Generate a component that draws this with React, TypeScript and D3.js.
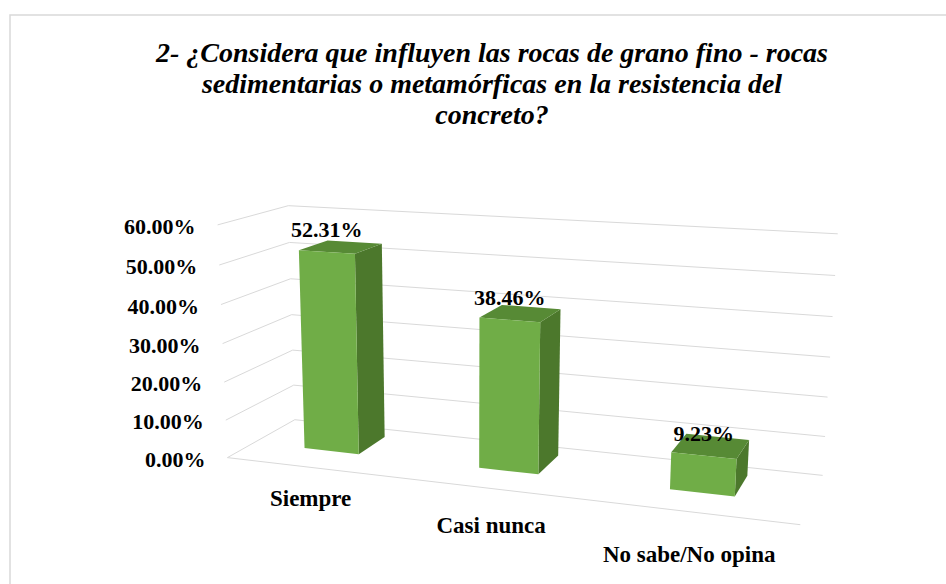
import React from "react";
import * as d3 from "d3";

// ---------- data ----------
const categories = ["Siempre", "Casi nunca", "No sabe/No opina"];
const values = [52.31, 38.46, 9.23];
const valueLabels = ["52.31%", "38.46%", "9.23%"];
const yTicks = [0, 10, 20, 30, 40, 50, 60];
const yTickLabels = ["0.00%", "10.00%", "20.00%", "30.00%", "40.00%", "50.00%", "60.00%"];
const titleLines = [
  "2- ¿Considera que influyen las rocas de grano fino - rocas",
  "sedimentarias o metamórficas en la resistencia del",
  "concreto?",
];

// ---------- layout: 3D box calibration (u, v, w) -> screen (x, y) ----------
// u: category axis 0..1, v: value fraction 0..1, w: depth 0 (front) .. 1 (back)
const calib: number[][] = [
  [0, 1, 0, 215, 225], [0, 5 / 6, 0, 218, 265], [0, 4 / 6, 0, 220, 305], [0, 3 / 6, 0, 223, 343],
  [0, 2 / 6, 0, 225, 382], [0, 1 / 6, 0, 227, 420], [0, 0, 0, 230, 455],
  [0, 1, 1, 292, 205], [0, 0, 1, 291, 423],
  [1, 1, 1, 837, 235], [1, 5 / 6, 1, 835, 275], [1, 4 / 6, 1, 833, 317], [1, 3 / 6, 1, 830, 357],
  [1, 2 / 6, 1, 828, 397], [1, 1 / 6, 1, 825, 435], [1, 0, 1, 823, 473],
  [1, 0, 0, 800, 528],
];
const CX = 500, CY = 380, S = 300;

function solveDLT(pts: number[][]) {
  const n = 11;
  const A = Array.from({ length: n }, () => new Array(n + 1).fill(0));
  const add = (row: number[], b: number) => {
    for (let i = 0; i < n; i++) {
      for (let j = 0; j < n; j++) A[i][j] += row[i] * row[j];
      A[i][n] += row[i] * b;
    }
  };
  for (const [X, Y, Z, x0, y0] of pts) {
    const x = (x0 - CX) / S, y = (y0 - CY) / S;
    add([X, Y, Z, 1, 0, 0, 0, 0, -x * X, -x * Y, -x * Z], x);
    add([0, 0, 0, 0, X, Y, Z, 1, -y * X, -y * Y, -y * Z], y);
  }
  for (let c = 0; c < n; c++) {
    let p = c;
    for (let r = c + 1; r < n; r++) if (Math.abs(A[r][c]) > Math.abs(A[p][c])) p = r;
    [A[c], A[p]] = [A[p], A[c]];
    for (let r = 0; r < n; r++) {
      if (r === c) continue;
      const f = A[r][c] / A[c][c];
      for (let k = c; k <= n; k++) A[r][k] -= f * A[c][k];
    }
  }
  return A.map((row, i) => row[n] / row[i]);
}
const P = solveDLT(calib);
function proj(u: number, v: number, w: number): [number, number] {
  const d = P[8] * u + P[9] * v + P[10] * w + 1;
  return [
    ((P[0] * u + P[1] * v + P[2] * w + P[3]) / d) * S + CX,
    ((P[4] * u + P[5] * v + P[6] * w + P[7]) / d) * S + CY,
  ];
}

const vScale = d3.scaleLinear().domain([0, 60]).range([0, 1]);
const uBand = d3
  .scaleBand<string>()
  .domain(categories)
  .range([0, 1])
  .paddingInner(0.68)
  .paddingOuter(0.33)
  .align(0.46);
const W0 = 0.38, W1 = 0.82;

const poly = (pts: [number, number][]) => "M" + pts.map((p) => p[0].toFixed(2) + "," + p[1].toFixed(2)).join("L") + "Z";
const line = (pts: [number, number][]) => "M" + pts.map((p) => p[0].toFixed(2) + "," + p[1].toFixed(2)).join("L");

const FRONT = "#70AD47";
const SIDE = "#4C782C";
const TOP = "#578A35";
const GRID = "#D9D9D9";
const FONT = "'Liberation Serif', 'Times New Roman', serif";

export default function App() {
  return (
    <svg width={946} height={584} style={{ position: "absolute", left: 0, top: 0, background: "#fff" }}>
      <rect x={10} y={15} width={1000} height={1000} fill="#fff" stroke={GRID} strokeWidth={1.5} />
      {titleLines.map((t, i) => (
        <text
          key={i}
          x={492}
          y={62 + i * 31}
          textAnchor="middle"
          fontFamily={FONT}
          fontWeight="bold"
          fontStyle="italic"
          fontSize={28}
          fill="#000"
        >
          {t}
        </text>
      ))}
      {/* gridlines */}
      {yTicks.map((t) => {
        const v = vScale(t);
        return <path key={t} d={line([proj(0, v, 0), proj(0, v, 1), proj(1, v, 1)])} fill="none" stroke={GRID} strokeWidth={1} />;
      })}
      <path d={line([proj(0, 0, 0), proj(1, 0, 0)])} fill="none" stroke={GRID} strokeWidth={1} />
      {/* tick labels */}
      {yTicks.map((t, i) => {
        const [x, y] = proj(0, vScale(t), 0);
        return (
          <text key={t} x={x - 22} y={y + 9} textAnchor="end" fontFamily={FONT} fontWeight="bold" fontSize={22} fill="#000">
            {yTickLabels[i]}
          </text>
        );
      })}
      {/* bars */}
      {categories.map((c, i) => {
        const u0 = uBand(c)!, u1 = u0 + uBand.bandwidth();
        const v = vScale(values[i]);
        const front = poly([proj(u0, 0, W0), proj(u1, 0, W0), proj(u1, v, W0), proj(u0, v, W0)]);
        const side = poly([proj(u1, 0, W0), proj(u1, 0, W1), proj(u1, v, W1), proj(u1, v, W0)]);
        const top = poly([proj(u0, v, W0), proj(u1, v, W0), proj(u1, v, W1), proj(u0, v, W1)]);
        return (
          <g key={c}>
            <path d={side} fill={SIDE} />
            <path d={top} fill={TOP} />
            <path d={front} fill={FRONT} />
          </g>
        );
      })}
      {/* data labels */}
      {categories.map((c, i) => {
        const uc = uBand(c)! + uBand.bandwidth() / 2;
        const [x, y] = proj(uc, vScale(values[i]), W0);
        return (
          <text key={c} x={x} y={y - 15} textAnchor="middle" fontFamily={FONT} fontWeight="bold" fontSize={22} fill="#000">
            {valueLabels[i]}
          </text>
        );
      })}
      {/* category labels */}
      {categories.map((c, i) => {
        const uc = uBand(c)! + uBand.bandwidth() / 2;
        const [x, y] = proj(uc, 0, 0);
        return (
          <text key={c} x={x + 4 - i * 2} y={y + 39 + i * 5.5} textAnchor="middle" fontFamily={FONT} fontWeight="bold" fontSize={23} fill="#000">
            {c}
          </text>
        );
      })}
    </svg>
  );
}
